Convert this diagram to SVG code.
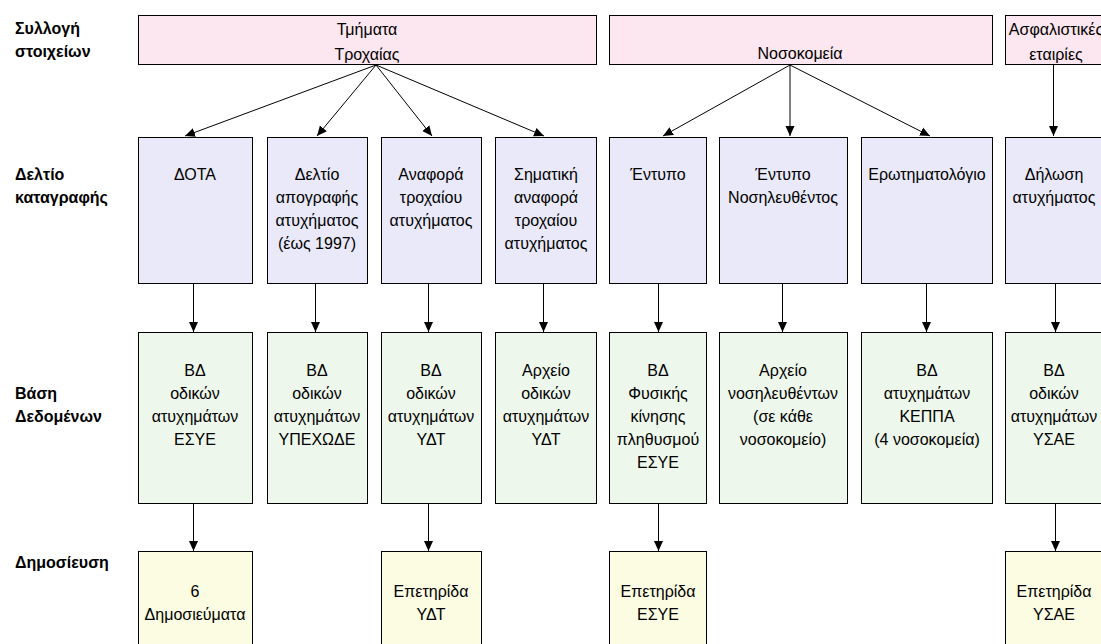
<svg xmlns="http://www.w3.org/2000/svg" width="1101" height="644" viewBox="0 0 1101 644">
<style>
  .box { stroke: #000; stroke-width: 1; }
  .src { fill: #FCE6EF; }
  .form { fill: #E9E9F9; }
  .db { fill: #EEF7EC; }
  .pub { fill: #FCFCE3; }
  .t { font-family: "Liberation Sans", Arial, sans-serif; font-size: 16px; fill: #000; text-anchor: middle; }
  .lbl { font-family: "Liberation Sans", Arial, sans-serif; font-size: 16px; font-weight: bold; fill: #000; }
  .conn line { stroke: #000; stroke-width: 1; marker-end: url(#ah); }
</style>
<defs>
  <marker id="ah" markerUnits="userSpaceOnUse" markerWidth="10" markerHeight="10" refX="10" refY="5" orient="auto">
    <path d="M0,0.5 L10,5 L0,9.5 z" fill="#000"/>
  </marker>
</defs>
<rect width="1101" height="644" fill="#fff"/>

<g id="row-labels">
  <text class="lbl" x="15" y="34">Συλλογή</text>
  <text class="lbl" x="15" y="57">στοιχείων</text>
  <text class="lbl" x="15" y="180">Δελτίο</text>
  <text class="lbl" x="15" y="203">καταγραφής</text>
  <text class="lbl" x="15" y="399">Βάση</text>
  <text class="lbl" x="15" y="422">Δεδομένων</text>
  <text class="lbl" x="15" y="568">Δημοσίευση</text>
</g>

<!-- Sources -->
<g id="src-traffic">
  <rect class="box src" x="138.5" y="15.5" width="458" height="49"/>
  <text class="t" x="367" y="35">Τμήματα</text>
  <text class="t" x="367" y="60">Τροχαίας</text>
</g>
<g id="src-hospitals">
  <rect class="box src" x="609.5" y="15.5" width="383" height="49"/>
  <text class="t" x="800" y="59">Νοσοκομεία</text>
</g>
<g id="src-insurance">
  <rect class="box src" x="1005.5" y="15.5" width="110" height="49"/>
  <text class="t" x="1056" y="35">Ασφαλιστικές</text>
  <text class="t" x="1056" y="60">εταιρίες</text>
</g>

<!-- Forms -->
<g id="form-1">
  <rect class="box form" x="138.5" y="137.5" width="114" height="146"/>
  <text class="t" x="195" y="180">ΔΟΤΑ</text>
</g>
<g id="form-2">
  <rect class="box form" x="267.5" y="137.5" width="100" height="146"/>
  <text class="t" x="317" y="180">Δελτίο</text>
  <text class="t" x="317" y="203">απογραφής</text>
  <text class="t" x="317" y="226">ατυχήματος</text>
  <text class="t" x="317" y="249">(έως 1997)</text>
</g>
<g id="form-3">
  <rect class="box form" x="381.5" y="137.5" width="100" height="146"/>
  <text class="t" x="431" y="180">Αναφορά</text>
  <text class="t" x="431" y="203">τροχαίου</text>
  <text class="t" x="431" y="226">ατυχήματος</text>
</g>
<g id="form-4">
  <rect class="box form" x="495.5" y="137.5" width="101" height="146"/>
  <text class="t" x="546" y="180">Σηματική</text>
  <text class="t" x="546" y="203">αναφορά</text>
  <text class="t" x="546" y="226">τροχαίου</text>
  <text class="t" x="546" y="249">ατυχήματος</text>
</g>
<g id="form-5">
  <rect class="box form" x="609.5" y="137.5" width="97" height="146"/>
  <text class="t" x="658" y="180">Έντυπο</text>
</g>
<g id="form-6">
  <rect class="box form" x="719.5" y="137.5" width="128" height="146"/>
  <text class="t" x="783" y="180">Έντυπο</text>
  <text class="t" x="783" y="203">Νοσηλευθέντος</text>
</g>
<g id="form-7">
  <rect class="box form" x="861.5" y="137.5" width="131" height="146"/>
  <text class="t" x="927" y="180">Ερωτηματολόγιο</text>
</g>
<g id="form-8">
  <rect class="box form" x="1005.5" y="137.5" width="110" height="146"/>
  <text class="t" x="1054" y="180">Δήλωση</text>
  <text class="t" x="1054" y="203">ατυχήματος</text>
</g>

<!-- Databases -->
<g id="db-1">
  <rect class="box db" x="138.5" y="332.5" width="114" height="171"/>
  <text class="t" x="195" y="376">ΒΔ</text>
  <text class="t" x="195" y="399">οδικών</text>
  <text class="t" x="195" y="422">ατυχημάτων</text>
  <text class="t" x="195" y="445">ΕΣΥΕ</text>
</g>
<g id="db-2">
  <rect class="box db" x="267.5" y="332.5" width="100" height="171"/>
  <text class="t" x="317" y="376">ΒΔ</text>
  <text class="t" x="317" y="399">οδικών</text>
  <text class="t" x="317" y="422">ατυχημάτων</text>
  <text class="t" x="317" y="445">ΥΠΕΧΩΔΕ</text>
</g>
<g id="db-3">
  <rect class="box db" x="381.5" y="332.5" width="100" height="171"/>
  <text class="t" x="431" y="376">ΒΔ</text>
  <text class="t" x="431" y="399">οδικών</text>
  <text class="t" x="431" y="422">ατυχημάτων</text>
  <text class="t" x="431" y="445">ΥΔΤ</text>
</g>
<g id="db-4">
  <rect class="box db" x="495.5" y="332.5" width="101" height="171"/>
  <text class="t" x="546" y="376">Αρχείο</text>
  <text class="t" x="546" y="399">οδικών</text>
  <text class="t" x="546" y="422">ατυχημάτων</text>
  <text class="t" x="546" y="445">ΥΔΤ</text>
</g>
<g id="db-5">
  <rect class="box db" x="609.5" y="332.5" width="97" height="171"/>
  <text class="t" x="658" y="376">ΒΔ</text>
  <text class="t" x="658" y="399">Φυσικής</text>
  <text class="t" x="658" y="422">κίνησης</text>
  <text class="t" x="658" y="445">πληθυσμού</text>
  <text class="t" x="658" y="468">ΕΣΥΕ</text>
</g>
<g id="db-6">
  <rect class="box db" x="719.5" y="332.5" width="128" height="171"/>
  <text class="t" x="783" y="376">Αρχείο</text>
  <text class="t" x="783" y="399">νοσηλευθέντων</text>
  <text class="t" x="783" y="422">(σε κάθε</text>
  <text class="t" x="783" y="445">νοσοκομείο)</text>
</g>
<g id="db-7">
  <rect class="box db" x="861.5" y="332.5" width="131" height="171"/>
  <text class="t" x="927" y="376">ΒΔ</text>
  <text class="t" x="927" y="399">ατυχημάτων</text>
  <text class="t" x="927" y="422">ΚΕΠΠΑ</text>
  <text class="t" x="927" y="445">(4 νοσοκομεία)</text>
</g>
<g id="db-8">
  <rect class="box db" x="1005.5" y="332.5" width="110" height="171"/>
  <text class="t" x="1054" y="376">ΒΔ</text>
  <text class="t" x="1054" y="399">οδικών</text>
  <text class="t" x="1054" y="422">ατυχημάτων</text>
  <text class="t" x="1054" y="445">ΥΣΑΕ</text>
</g>

<!-- Publications -->
<g id="pub-1">
  <rect class="box pub" x="138.5" y="551.5" width="114" height="110"/>
  <text class="t" x="195" y="597">6</text>
  <text class="t" x="195" y="620">Δημοσιεύματα</text>
</g>
<g id="pub-3">
  <rect class="box pub" x="381.5" y="551.5" width="100" height="110"/>
  <text class="t" x="431" y="597">Επετηρίδα</text>
  <text class="t" x="431" y="620">ΥΔΤ</text>
</g>
<g id="pub-5">
  <rect class="box pub" x="609.5" y="551.5" width="97" height="110"/>
  <text class="t" x="658" y="597">Επετηρίδα</text>
  <text class="t" x="658" y="620">ΕΣΥΕ</text>
</g>
<g id="pub-8">
  <rect class="box pub" x="1005.5" y="551.5" width="110" height="110"/>
  <text class="t" x="1054" y="597">Επετηρίδα</text>
  <text class="t" x="1054" y="620">ΥΣΑΕ</text>
</g>

<g id="connectors" class="conn">
  <line x1="376" y1="65" x2="185" y2="136"/>
  <line x1="376" y1="65" x2="317" y2="136"/>
  <line x1="376" y1="65" x2="432" y2="136"/>
  <line x1="376" y1="65" x2="544" y2="136"/>
  <line x1="790" y1="65" x2="663" y2="136"/>
  <line x1="790" y1="65" x2="790" y2="136"/>
  <line x1="790" y1="65" x2="930" y2="136"/>
  <line x1="1053.5" y1="65" x2="1053.5" y2="136"/>

  <line x1="193.5" y1="284" x2="193.5" y2="332"/>
  <line x1="315.5" y1="284" x2="315.5" y2="332"/>
  <line x1="428.5" y1="284" x2="428.5" y2="332"/>
  <line x1="543.5" y1="284" x2="543.5" y2="332"/>
  <line x1="658.5" y1="284" x2="658.5" y2="332"/>
  <line x1="782.5" y1="284" x2="782.5" y2="332"/>
  <line x1="926.5" y1="284" x2="926.5" y2="332"/>
  <line x1="1055.5" y1="284" x2="1055.5" y2="332"/>

  <line x1="193.5" y1="504" x2="193.5" y2="551"/>
  <line x1="428.5" y1="504" x2="428.5" y2="551"/>
  <line x1="658.5" y1="504" x2="658.5" y2="551"/>
  <line x1="1055.5" y1="504" x2="1055.5" y2="551"/>
</g>
</svg>
